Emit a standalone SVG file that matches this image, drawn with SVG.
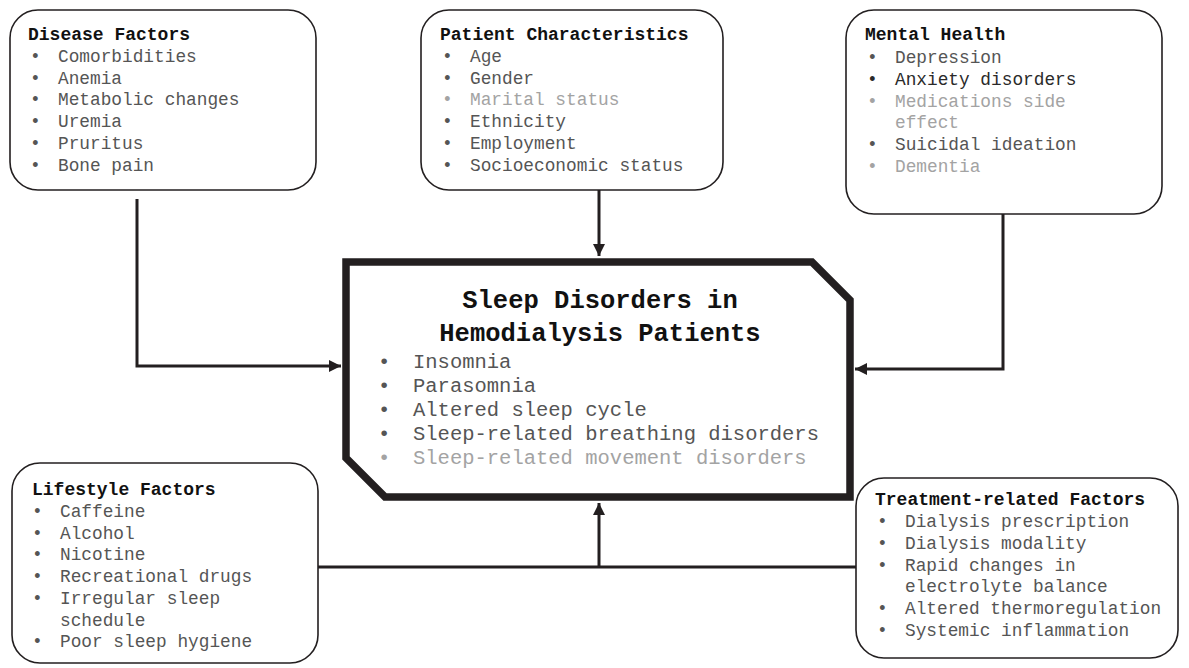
<svg xmlns="http://www.w3.org/2000/svg" width="1189" height="668" viewBox="0 0 1189 668">
<style>
.box{fill:#fff;stroke:#231f20;stroke-width:1.6}
.t{font-family:"Liberation Mono","Courier New",monospace;font-size:17.8px;fill:#555}
.h{font-family:"Liberation Mono","Courier New",monospace;font-size:18px;font-weight:bold;fill:#111}
.ct{font-family:"Liberation Mono","Courier New",monospace;font-size:20.5px;fill:#555}
.ch{font-family:"Liberation Mono","Courier New",monospace;font-size:25.5px;font-weight:bold;fill:#111;text-anchor:middle}
.lt{fill:#a3a3a3}
.dk{fill:#2a2a2a}
.con{fill:none;stroke:#231f20;stroke-width:3}
</style>
<defs>
<marker id="arr" markerUnits="userSpaceOnUse" markerWidth="14" markerHeight="12" refX="12" refY="6" orient="auto">
<path d="M0,0 L12,6 L0,12 Z" fill="#231f20"/>
</marker>
</defs>
<rect width="1189" height="668" fill="#fff"/>

<g id="connectors">
<path class="con" d="M137,199 L137,366 L341,366" marker-end="url(#arr)"/>
<path class="con" d="M599,190 L599,256" marker-end="url(#arr)"/>
<path class="con" d="M1003,214 L1003,369 L855,369" marker-end="url(#arr)"/>
<path class="con" d="M318,567 L856,567"/>
<path class="con" d="M599,567 L599,503" marker-end="url(#arr)"/>
</g>

<g id="disease">
<rect class="box" x="10" y="10" width="306" height="180" rx="28"/>
<text class="h" x="28" y="40">Disease Factors</text>
<text class="t" x="30" y="62">•</text><text class="t" x="58" y="62">Comorbidities</text>
<text class="t" x="30" y="83.7">•</text><text class="t" x="58" y="83.7">Anemia</text>
<text class="t" x="30" y="105.4">•</text><text class="t" x="58" y="105.4">Metabolic changes</text>
<text class="t" x="30" y="127.1">•</text><text class="t" x="58" y="127.1">Uremia</text>
<text class="t" x="30" y="148.8">•</text><text class="t" x="58" y="148.8">Pruritus</text>
<text class="t" x="30" y="170.5">•</text><text class="t" x="58" y="170.5">Bone pain</text>
</g>

<g id="patient">
<rect class="box" x="421" y="10" width="302" height="180" rx="28"/>
<text class="h" x="440" y="40">Patient Characteristics</text>
<text class="t" x="442" y="62">•</text><text class="t" x="470" y="62">Age</text>
<text class="t" x="442" y="83.7">•</text><text class="t" x="470" y="83.7">Gender</text>
<text class="t lt" x="442" y="105.4">•</text><text class="t lt" x="470" y="105.4">Marital status</text>
<text class="t" x="442" y="127.1">•</text><text class="t" x="470" y="127.1">Ethnicity</text>
<text class="t" x="442" y="148.8">•</text><text class="t" x="470" y="148.8">Employment</text>
<text class="t" x="442" y="170.5">•</text><text class="t" x="470" y="170.5">Socioeconomic status</text>
</g>

<g id="mental">
<rect class="box" x="846" y="10" width="316" height="204" rx="28"/>
<text class="h" x="865" y="40">Mental Health</text>
<text class="t" x="867" y="63">•</text><text class="t" x="895" y="63">Depression</text>
<text class="t dk" x="867" y="84.8">•</text><text class="t dk" x="895" y="84.8">Anxiety disorders</text>
<text class="t lt" x="867" y="106.6">•</text><text class="t lt" x="895" y="106.6">Medications side</text>
<text class="t lt" x="895" y="128.4">effect</text>
<text class="t" x="867" y="150.2">•</text><text class="t" x="895" y="150.2">Suicidal ideation</text>
<text class="t lt" x="867" y="172">•</text><text class="t lt" x="895" y="172">Dementia</text>
</g>

<g id="center">
<path d="M346,262 L812,262 L850,300 L850,497 L385,497 L346,458 Z" fill="#fff" stroke="#231f20" stroke-width="7.5" stroke-linejoin="miter"/>
<text class="ch" x="600" y="308">Sleep Disorders in</text>
<text class="ch" x="600" y="341">Hemodialysis Patients</text>
<text class="ct" x="378" y="368">•</text><text class="ct" x="413" y="368">Insomnia</text>
<text class="ct" x="378" y="392">•</text><text class="ct" x="413" y="392">Parasomnia</text>
<text class="ct" x="378" y="416">•</text><text class="ct" x="413" y="416">Altered sleep cycle</text>
<text class="ct" x="378" y="440">•</text><text class="ct" x="413" y="440">Sleep-related breathing disorders</text>
<text class="ct lt" x="378" y="464">•</text><text class="ct lt" x="413" y="464">Sleep-related movement disorders</text>
</g>

<g id="lifestyle">
<rect class="box" x="12" y="463" width="306" height="200" rx="28"/>
<text class="h" x="32" y="495">Lifestyle Factors</text>
<text class="t" x="32" y="517">•</text><text class="t" x="60" y="517">Caffeine</text>
<text class="t" x="32" y="538.7">•</text><text class="t" x="60" y="538.7">Alcohol</text>
<text class="t" x="32" y="560.4">•</text><text class="t" x="60" y="560.4">Nicotine</text>
<text class="t" x="32" y="582.1">•</text><text class="t" x="60" y="582.1">Recreational drugs</text>
<text class="t" x="32" y="603.8">•</text><text class="t" x="60" y="603.8">Irregular sleep</text>
<text class="t" x="60" y="625.5">schedule</text>
<text class="t" x="32" y="647.2">•</text><text class="t" x="60" y="647.2">Poor sleep hygiene</text>
</g>

<g id="treatment">
<rect class="box" x="856" y="478" width="322" height="180" rx="28"/>
<text class="h" x="875" y="505">Treatment-related Factors</text>
<text class="t" x="877" y="527">•</text><text class="t" x="905" y="527">Dialysis prescription</text>
<text class="t" x="877" y="548.8">•</text><text class="t" x="905" y="548.8">Dialysis modality</text>
<text class="t" x="877" y="570.6">•</text><text class="t" x="905" y="570.6">Rapid changes in</text>
<text class="t" x="905" y="592.4">electrolyte balance</text>
<text class="t" x="877" y="614.2">•</text><text class="t" x="905" y="614.2">Altered thermoregulation</text>
<text class="t" x="877" y="636">•</text><text class="t" x="905" y="636">Systemic inflammation</text>
</g>
</svg>
